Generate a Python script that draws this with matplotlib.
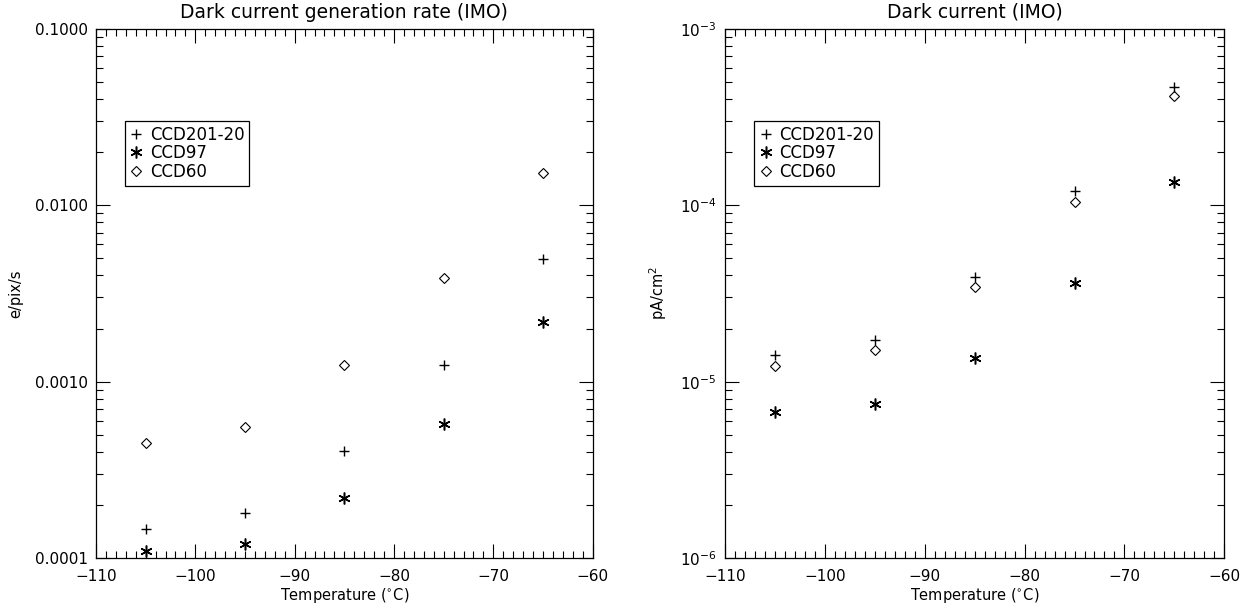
import matplotlib
matplotlib.use("Agg")
import matplotlib.pyplot as plt
from matplotlib.ticker import FixedLocator, FixedFormatter, MultipleLocator, LogLocator, NullFormatter

temps = [-105, -95, -85, -75, -65]
series_names = ["CCD201-20", "CCD97", "CCD60"]

# Taxa de geracao de corrente escura (e/pix/s)
rate_ccd201 = [1.47e-4, 1.81e-4, 4.05e-4, 1.25e-3, 4.93e-3]
rate_ccd97 = [1.10e-4, 1.20e-4, 2.18e-4, 5.77e-4, 2.17e-3]
rate_ccd60 = [4.46e-4, 5.50e-4, 1.24e-3, 3.85e-3, 1.52e-2]

# Corrente escura (pA/cm^2)
cur_ccd201 = [1.41e-5, 1.73e-5, 3.90e-5, 1.21e-4, 4.70e-4]
cur_ccd97 = [6.76e-6, 7.47e-6, 1.36e-5, 3.62e-5, 1.35e-4]
cur_ccd60 = [1.23e-5, 1.52e-5, 3.46e-5, 1.05e-4, 4.18e-4]

left_ticks = [1e-4, 1e-3, 1e-2, 1e-1]
left_ticklabels = ["0.0001", "0.0010", "0.0100", "0.1000"]

plt.rcParams["font.family"] = "DejaVu Sans"
plt.rcParams["mathtext.default"] = "regular"

fig = plt.figure(figsize=(12.48, 6.11), dpi=100)
ax1 = fig.add_axes([0.0769, 0.0867, 0.398, 0.866])
ax2 = fig.add_axes([0.581, 0.0867, 0.400, 0.866])

asterisk = (6, 2, 0)
styles = [
    dict(marker="+", ms=7.5, mew=1.0, color="black"),
    dict(marker=asterisk, ms=8.5, mew=1.1, color="black"),
    dict(marker="D", ms=5.5, mew=0.8, mfc="none", mec="black"),
]


def style_axes(ax, ylim):
    ax.set_xlim(-110, -60)
    ax.set_yscale("log")
    ax.set_ylim(*ylim)
    ax.xaxis.set_major_locator(MultipleLocator(10))
    ax.xaxis.set_minor_locator(MultipleLocator(1))
    ax.yaxis.set_minor_locator(LogLocator(base=10, subs=range(2, 10)))
    ax.yaxis.set_minor_formatter(NullFormatter())
    ax.tick_params(which="both", direction="in", top=True, right=True,
                   labelsize=11, width=0.8)
    ax.tick_params(axis="x", pad=8)
    ax.tick_params(axis="y", pad=6)
    ax.tick_params(which="major", length=10)
    ax.tick_params(which="minor", length=5)
    for sp in ax.spines.values():
        sp.set_linewidth(0.9)
    ax.set_xlabel("Temperature ($^{\\circ}$C)", fontsize=10.5, labelpad=1)


# Painel esquerdo: taxa de geracao
for ys, name, st in zip([rate_ccd201, rate_ccd97, rate_ccd60], series_names, styles):
    ax1.plot(temps, ys, linestyle="none", label=name, **st)
style_axes(ax1, (1e-4, 1e-1))
ax1.yaxis.set_major_locator(FixedLocator(left_ticks))
ax1.yaxis.set_major_formatter(FixedFormatter(left_ticklabels))
ax1.set_ylabel("e/pix/s", fontsize=10.5, labelpad=8)
ax1.set_title("Dark current generation rate (IMO)", fontsize=13.5, pad=8)

# Painel direito: corrente escura
for ys, name, st in zip([cur_ccd201, cur_ccd97, cur_ccd60], series_names, styles):
    ax2.plot(temps, ys, linestyle="none", label=name, **st)
style_axes(ax2, (1e-6, 1e-3))
ax2.yaxis.set_major_locator(FixedLocator([1e-6, 1e-5, 1e-4, 1e-3]))
ax2.set_ylabel("pA/cm$^2$", fontsize=10.5, labelpad=8)
ax2.set_title("Dark current (IMO)", fontsize=13.5, pad=8)

for ax in (ax1, ax2):
    leg = ax.legend(loc="upper left", bbox_to_anchor=(0.058, 0.826),
                    fontsize=12, frameon=True, fancybox=False,
                    edgecolor="black", framealpha=1, handlelength=0.8,
                    handletextpad=0.4, borderpad=0.3, labelspacing=0.02,
                    borderaxespad=0)
    leg.get_frame().set_linewidth(0.9)

fig.savefig("out.png", dpi=100)
